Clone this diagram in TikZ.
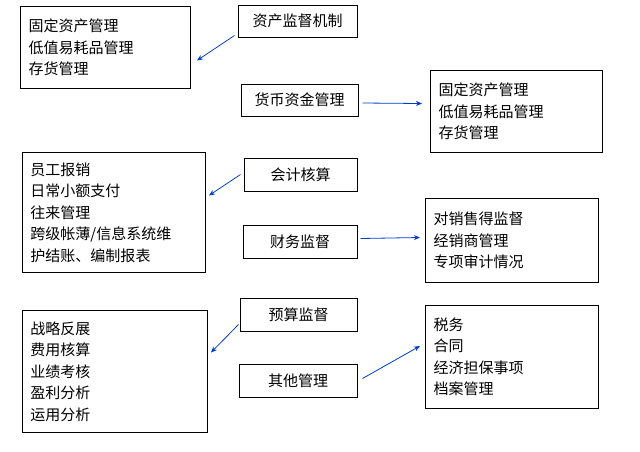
\documentclass[tikz,border=0pt]{standalone}
\usepackage{fontspec}
\setmainfont{Noto Sans CJK SC}
\usetikzlibrary{arrows.meta}
\tikzset{
  lst/.style={draw, line width=1pt, anchor=north west, align=left, inner xsep=8pt, inner ysep=5pt,
    font=\fontsize{15}{21.5}\selectfont},
  ttl/.style={draw, line width=1pt, inner sep=0pt, font=\fontsize{15}{16}\selectfont},
  arr/.style={draw=blue!70!cyan!80!black, line width=0.8pt, -{Stealth[length=6pt,width=5pt]}}
}
\begin{document}
\begin{tikzpicture}[x=1pt,y=-1pt]
\useasboundingbox (0,0) rectangle (640,451);
\node[lst, text width=154, minimum height=82] (fixA) at (20,6) {固定资产管理\\低值易耗品管理\\存货管理};
\node[ttl, minimum width=119, minimum height=32] (jd) at (297.5,21) {资产监督机制};
\node[ttl, minimum width=117, minimum height=32] (hb) at (299.5,100) {货币资金管理};
\node[lst, text width=156, minimum height=82] (fixB) at (430,70) {固定资产管理\\低值易耗品管理\\存货管理};
\node[lst, text width=167, minimum height=120] (yg) at (22,152) {员工报销\\日常小额支付\\往来管理\\跨级帐薄/信息系统维\\护结账、编制报表};
\node[ttl, minimum width=113, minimum height=33] (hs) at (300.5,174.5) {会计核算};
\node[ttl, minimum width=114, minimum height=33] (cw) at (300,241.5) {财务监督};
\node[lst, text width=157, minimum height=84] (xs) at (425,198) {对销售得监督\\经销商管理\\专项审计情况};
\node[ttl, minimum width=117, minimum height=33] (ys) at (298.5,314.5) {预算监督};
\node[ttl, minimum width=118, minimum height=33] (qt) at (298,380.5) {其他管理};
\node[lst, text width=169, minimum height=122] (zl) at (22,310) {战略反展\\费用核算\\业绩考核\\盈利分析\\运用分析};
\node[lst, text width=157, minimum height=103] (sw) at (425,305) {税务\\合同\\经济担保事项\\档案管理};
\draw[arr] ([xshift=-3pt,yshift=2pt]jd.south west) -- ([xshift=6pt,yshift=-13pt]fixA.east);
\draw[arr] ([xshift=4pt,yshift=-3pt]hb.east) -- ([xshift=-8pt,yshift=8pt]fixB.west);
\draw[arr] ([xshift=-3pt]hs.west) -- ([xshift=3pt,yshift=17pt]yg.east);
\draw[arr] ([xshift=3pt,yshift=3pt]cw.east) -- ([xshift=-5pt,yshift=3pt]xs.west);
\draw[arr] ([xshift=-1pt,yshift=-10pt]ys.west) -- ([xshift=3pt,yshift=19pt]zl.east);
\draw[arr] ([xshift=5pt,yshift=2pt]qt.east) -- ([xshift=-5pt,yshift=11pt]sw.west);
\end{tikzpicture}
\end{document}
